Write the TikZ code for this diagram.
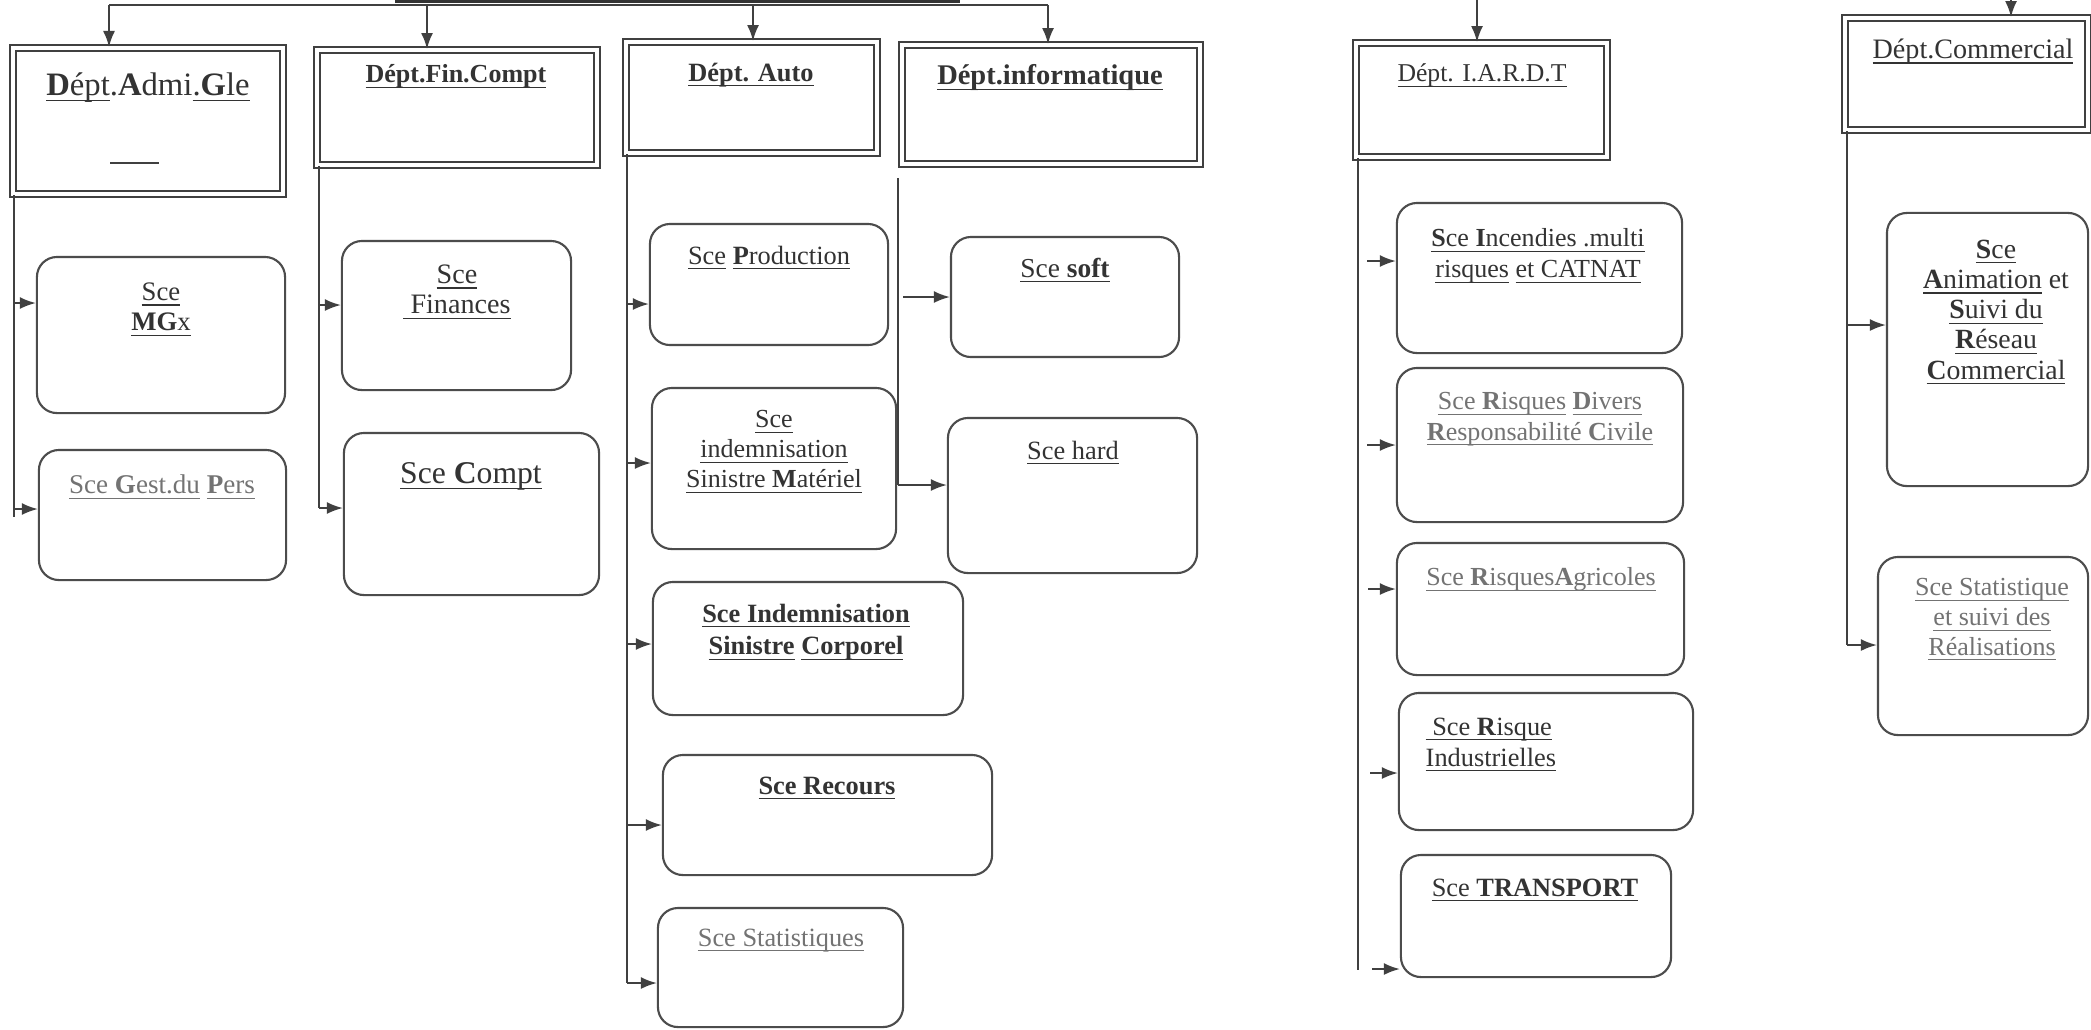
\documentclass[tikz,border=0pt]{standalone}
\usepackage{fontspec}
\setmainfont{Liberation Serif}
\usetikzlibrary{arrows.meta}
\newsavebox{\ulbox}
\newcommand{\undl}[1]{\sbox{\ulbox}{#1}\rlap{\rule[-1.5pt]{\wd\ulbox}{0.35pt}}\usebox{\ulbox}}

\begin{document}
\begin{tikzpicture}[x=0.01cm, y=-0.01cm,
  dept/.style={draw=black!75, double, double distance=1.1pt, line width=0.55pt, inner sep=0pt},
  svc/.style={draw=black!70, line width=0.6pt, rounded corners=2mm, inner sep=0pt},
  ttl/.style={text=black!80, align=center, inner sep=0pt, font={\fontsize{7.5}{8.8}\selectfont}},
  pale/.style={text=black!55},
  link/.style={draw=black!75, line width=0.55pt},
  arr/.style={link, -{Latex[length=1.6mm, width=1.2mm]}}]
  \useasboundingbox (0,0) rectangle (2091,1029);
  \fill[white] (0,0) rectangle (2091,1029);

  % departments
  \node[dept, minimum width=2.70cm, minimum height=1.46cm] (dag) at (148,121) {};
  \node[dept, minimum width=2.80cm, minimum height=1.15cm] (dfc) at (457,107.5) {};
  \node[dept, minimum width=2.51cm, minimum height=1.11cm] (dau) at (751.5,97.5) {};
  \node[dept, minimum width=2.98cm, minimum height=1.19cm] (dinf) at (1051,104.5) {};
  \node[dept, minimum width=2.51cm, minimum height=1.14cm] (diardt) at (1481.5,100) {};
  \node[dept, minimum width=2.43cm, minimum height=1.12cm] (dcom) at (1966.5,74) {};

  \node[ttl, anchor=north, font={\fontsize{9.3}{11}\selectfont}] (dagt) at (148,72) {\undl{\textbf{D}épt}.\textbf{A}dmi\undl{.\textbf{G}le}};
  \draw[link] (110,163) -- (159,163);
  \node[ttl, anchor=north, font={\fontsize{7.4}{8.8}\selectfont}] (dfct) at (456,64) {\undl{\textbf{Dépt.Fin.Compt}}};
  \node[ttl, anchor=north] (daut) at (751,62) {\undl{\textbf{Dépt. Auto}}};
  \node[ttl, anchor=north, font={\fontsize{8.1}{9.5}\selectfont}] (dinft) at (1050,64) {\undl{\textbf{Dépt.informatique}}};
  \node[ttl, anchor=north, font={\fontsize{7.3}{8.8}\selectfont}] (diardtt) at (1482,63) {\undl{Dépt. I.A.R.D.T}};
  \node[ttl, anchor=north, font={\fontsize{8}{9.5}\selectfont}] (dcomt) at (1973,38) {\undl{Dépt.Commercial}};

  % top line
  \coordinate (top1) at (109,5);
  \coordinate (top2) at (427,5);
  \coordinate (top3) at (753,5);
  \coordinate (top4) at (1048,5);
  \coordinate (top5) at (1477,0);
  \coordinate (top6) at (2011,0);
  \draw[link] (top1) -- (top4);
  \draw[black!80, line width=0.3mm] (395,1.5) -- (960,1.5);
  \draw[arr] (top1) -- (top1 |- dag.north);
  \draw[arr] (top2) -- (top2 |- dfc.north);
  \draw[arr] (top3) -- (top3 |- dau.north);
  \draw[arr] (top4) -- (top4 |- dinf.north);
  \draw[arr] (top5) -- (top5 |- diardt.north);
  \draw[arr] (top6) -- (top6 |- dcom.north);

  % Admi.Gle
  \node[svc, minimum width=2.48cm, minimum height=1.56cm] (mgx) at (161,335) {};
  \node[svc, minimum width=2.47cm, minimum height=1.30cm] (gdp) at (162.5,515) {};
  \node[ttl, anchor=north, font={\fontsize{7.6}{8.6}\selectfont}] (mgxt) at (161,282) {\undl{Sce}\\\undl{\textbf{MG}x}};
  \node[ttl, pale, anchor=north, font={\fontsize{7.7}{8.8}\selectfont}] (gdpt) at (162,474) {\undl{Sce \textbf{G}est.du} \undl{\textbf{P}ers}};
  \coordinate (t1) at (14,517);
  \coordinate (a11) at (14,303);
  \coordinate (a12) at (14,509);
  \draw[link] (t1 |- dag.south) -- (t1);
  \draw[arr] (a11) -- (a11 -| mgx.west);
  \draw[arr] (a12) -- (a12 -| gdp.west);

  % Fin.Compt
  \node[svc, minimum width=2.29cm, minimum height=1.49cm] (fin) at (456.5,315.5) {};
  \node[svc, minimum width=2.55cm, minimum height=1.62cm] (cpt) at (471.5,514) {};
  \node[ttl, anchor=north, font={\fontsize{8}{8.6}\selectfont}] (fint) at (457,264) {\undl{Sce}\\\undl{~Finances}};
  \node[ttl, anchor=north, font={\fontsize{9}{10}\selectfont}] (cptt) at (471,462) {\undl{Sce \textbf{C}ompt}};
  \coordinate (t2) at (319,508);
  \coordinate (a21) at (319,305);
  \draw[link] (t2 |- dfc.south) -- (t2);
  \draw[arr] (a21) -- (a21 -| fin.west);
  \draw[arr] (t2) -- (t2 -| cpt.west);

  % Auto
  \node[svc, minimum width=2.38cm, minimum height=1.21cm] (prod) at (769,284.5) {};
  \node[svc, minimum width=2.44cm, minimum height=1.61cm] (ism) at (774,468.5) {};
  \node[svc, minimum width=3.10cm, minimum height=1.33cm] (isc) at (808,648.5) {};
  \node[svc, minimum width=3.29cm, minimum height=1.20cm] (rec) at (827.5,815) {};
  \node[svc, minimum width=2.45cm, minimum height=1.19cm] (stat) at (780.5,967.5) {};
  \node[ttl, anchor=north] (prodt) at (769,245) {\undl{Sce} \undl{\textbf{P}roduction}};
  \node[ttl, anchor=north, font={\fontsize{7.4}{8.5}\selectfont}] (ismt) at (774,410) {\undl{Sce}\\\undl{indemnisation}\\\undl{Sinistre \textbf{M}atériel}};
  \node[ttl, anchor=north, font={\fontsize{7.5}{9.3}\selectfont\bfseries}] (isct) at (806,603) {\undl{Sce Indemnisation}\\\undl{Sinistre} \undl{Corporel}};
  \node[ttl, anchor=north] (rect) at (827,776) {\undl{\textbf{Sce Recours}}};
  \node[ttl, pale, anchor=north] (statt) at (781,928) {\undl{Sce Statistiques}};
  \coordinate (t3) at (627,983);
  \coordinate (a31) at (627,304);
  \coordinate (a32) at (627,463);
  \coordinate (a33) at (627,644);
  \coordinate (a34) at (627,825);
  \draw[link] (t3 |- dau.south) -- (t3);
  \draw[arr] (a31) -- (a31 -| prod.west);
  \draw[arr] (a32) -- (a32 -| ism.west);
  \draw[arr] (a33) -- (a33 -| isc.west);
  \draw[arr] (a34) -- (a34 -| rec.west);
  \draw[arr] (t3) -- (t3 -| stat.west);

  % informatique
  \node[svc, minimum width=2.28cm, minimum height=1.20cm] (soft) at (1065,297) {};
  \node[svc, minimum width=2.49cm, minimum height=1.55cm] (hard) at (1072.5,495.5) {};
  \node[ttl, anchor=north, font={\fontsize{7.8}{9}\selectfont}] (softt) at (1065,257) {\undl{Sce \textbf{soft}}};
  \node[ttl, anchor=north] (hardt) at (1073,440) {\undl{Sce hard}};
  \coordinate (t4a) at (898,178);
  \coordinate (t4) at (898,485);
  \coordinate (a41) at (903,297);
  \draw[link] (t4a) -- (t4);
  \draw[arr] (a41) -- (a41 -| soft.west);
  \draw[arr] (t4) -- (t4 -| hard.west);

  % I.A.R.D.T
  \node[svc, minimum width=2.85cm, minimum height=1.50cm] (inc) at (1539.5,278) {};
  \node[svc, minimum width=2.86cm, minimum height=1.54cm] (rdiv) at (1540,445) {};
  \node[svc, minimum width=2.87cm, minimum height=1.32cm] (agr) at (1540.5,609) {};
  \node[svc, minimum width=2.94cm, minimum height=1.37cm] (ind) at (1546,761.5) {};
  \node[svc, minimum width=2.70cm, minimum height=1.22cm] (trp) at (1536,916) {};
  \node[ttl, anchor=north, font={\fontsize{7.4}{8.8}\selectfont}] (inct) at (1538,228) {\undl{\textbf{S}ce \textbf{I}ncendies .multi}\\\undl{risques} \undl{et CATNAT}};
  \node[ttl, pale, anchor=north, font={\fontsize{7.4}{8.6}\selectfont}] (rdivt) at (1540,392) {\undl{Sce \textbf{R}isques} \undl{\textbf{D}ivers}\\\undl{\textbf{R}esponsabilité \textbf{C}ivile}};
  \node[ttl, pale, anchor=north, font={\fontsize{7.4}{8.6}\selectfont}] (agrt) at (1541,567) {\undl{Sce \textbf{R}isques\textbf{A}gricoles}};
  \node[ttl, align=left, anchor=north west] (indt) at (1425,717) {\undl{~Sce \textbf{R}isque}\\\undl{Industrielles}};
  \node[ttl, anchor=north] (trpt) at (1535,878) {\undl{Sce \textbf{TRANSPORT}}};
  \coordinate (t5) at (1358,970);
  \coordinate (a51) at (1367,261);
  \coordinate (a52) at (1367,445);
  \coordinate (a53) at (1368,589);
  \coordinate (a54) at (1370,773);
  \coordinate (a55) at (1372,969);
  \draw[link] (t5 |- diardt.south) -- (t5);
  \draw[arr] (a51) -- (a51 -| inc.west);
  \draw[arr] (a52) -- (a52 -| rdiv.west);
  \draw[arr] (a53) -- (a53 -| agr.west);
  \draw[arr] (a54) -- (a54 -| ind.west);
  \draw[arr] (a55) -- (a55 -| trp.west);

  % Commercial
  \node[svc, minimum width=2.01cm, minimum height=2.73cm] (anim) at (1987.5,349.5) {};
  \node[svc, minimum width=2.10cm, minimum height=1.78cm] (real) at (1983,646) {};
  \node[ttl, anchor=north, font={\fontsize{7.9}{8.6}\selectfont}] (animt) at (1996,239) {\undl{\textbf{S}ce}\\\undl{\textbf{A}nimation} et\\\undl{\textbf{S}uivi du}\\\undl{\textbf{R}éseau}\\\undl{\textbf{C}ommercial}};
  \node[ttl, pale, anchor=north, font={\fontsize{7.4}{8.4}\selectfont}] (realt) at (1992,578) {\undl{Sce Statistique}\\\undl{et suivi des}\\\undl{Réalisations}};
  \coordinate (t6) at (1847,645);
  \coordinate (a61) at (1847,325);
  \draw[link] (t6 |- dcom.south) -- (t6);
  \draw[arr] (a61) -- (a61 -| anim.west);
  \draw[arr] (t6) -- (t6 -| real.west);
\end{tikzpicture}
\end{document}
